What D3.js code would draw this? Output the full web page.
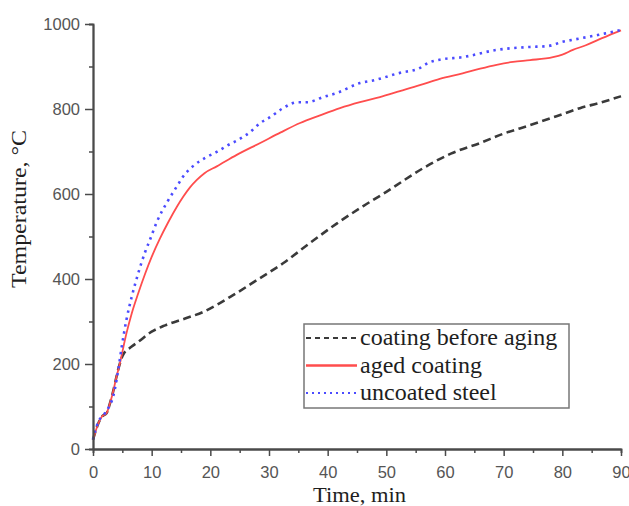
<!DOCTYPE html>
<html>
<head>
<meta charset="utf-8">
<script src="https://cdn.jsdelivr.net/npm/d3@7"></script>
<style>
  body { margin: 0; background: #fff; }
  svg { display: block; }
</style>
</head>
<body>
<svg id="chart"></svg>
<script>
// time (min) / temperature (°C)
const beforeTime = [0, 0.9, 1.5, 2.3, 2.9, 3.5, 4, 4.6, 5.1, 6.6, 7.7, 10, 12.3, 15.7, 18.7, 23.4, 28, 32.4, 37, 41.6, 46, 50, 56.3, 61, 66, 70, 74.5, 79, 83, 86.5, 90];
const beforeTemp = [22, 60, 76, 84, 108, 139, 170, 202, 221, 241, 252, 276, 291, 307, 322, 358, 398, 437, 485, 531, 571, 605, 661, 695, 720, 742, 762, 783, 802, 815, 830];

const agedTime = [0, 0.3, 0.9, 1.5, 2.3, 2.9, 3.5, 4, 4.6, 5.2, 5.7, 6.6, 7.7, 8.9, 10, 11.4, 12.8, 14.3, 15.4, 16.5, 17.7, 19, 21.1, 24.5, 28.5, 32, 35.3, 38.7, 42.1, 45.5, 48.9, 52.3, 55.7, 59.1, 63, 66, 68.8, 71.6, 74.5, 78.4, 80, 81.8, 84, 86, 88, 90];
const agedTemp = [22, 35, 60, 76, 84, 108, 139, 170, 202, 241, 272, 319, 366, 413, 452, 495, 533, 570, 594, 615, 633, 649, 665, 692, 720, 745, 767, 785, 802, 816, 828, 842, 856, 871, 884, 895, 904, 911, 915, 922, 928, 939, 950, 962, 974, 985];

const steelTime = [0, 0.9, 1.8, 2.6, 3.5, 4.3, 4.9, 5.7, 6.6, 7.7, 8.9, 9.7, 10.9, 12.6, 14.3, 15.3, 17, 19.1, 21.1, 23, 24.7, 26.8, 28.5, 30.2, 32.4, 34.8, 36.5, 39.2, 41.6, 45.5, 48, 52.3, 55.5, 57.4, 59.1, 63, 68.8, 74.5, 77.5, 80, 83, 86, 88, 90];
const steelTemp = [22, 64, 80, 96, 127, 186, 241, 304, 358, 413, 464, 492, 535, 580, 618, 640, 665, 685, 699, 715, 727, 746, 767, 781, 802, 816, 816, 828, 838, 861, 868, 885, 895, 910, 916, 922, 939, 946, 948, 958, 966, 974, 980, 986];

const xTicks = [0, 10, 20, 30, 40, 50, 60, 70, 80, 90];
const xMinor = [5, 15, 25, 35, 45, 55, 65, 75, 85];
const yTicks = [0, 200, 400, 600, 800, 1000];
const yMinor = [100, 300, 500, 700, 900];

const seriesNames = ["coating before aging", "aged coating", "uncoated steel"];

const width = 629, height = 506;
const svg = d3.select("#chart").attr("width", width).attr("height", height);

const x = d3.scaleLinear().domain([0, 90]).range([93, 621]);
const y = d3.scaleLinear().domain([0, 1000]).range([449, 24]);

const series = [
  { name: seriesNames[0], t: beforeTime, v: beforeTemp, color: "#3a3a3a", width: 2.6, dash: "8,4.5" },
  { name: seriesNames[1], t: agedTime, v: agedTemp, color: "#ff4d4d", width: 1.8, dash: null },
  { name: seriesNames[2], t: steelTime, v: steelTemp, color: "#4b4bff", width: 2.6, dash: "2.4,4.6" }
];

const line = d3.line()
  .x(d => x(d[0]))
  .y(d => y(d[1]))
  .curve(d3.curveMonotoneX);

// curves
series.forEach(s => {
  svg.append("path")
    .datum(s.t.map((t, i) => [t, s.v[i]]))
    .attr("fill", "none")
    .attr("stroke", s.color)
    .attr("stroke-width", s.width)
    .attr("stroke-dasharray", s.dash)
    .attr("d", line);
});

// axes
const axisColor = "#4a4a4a";
function styleAxis(g) {
  g.select(".domain").attr("stroke", axisColor).attr("stroke-width", 1.8);
  g.selectAll(".tick line").attr("stroke", axisColor).attr("stroke-width", 1.5);
  g.selectAll(".tick text")
    .attr("fill", "#555")
    .style("font-family", "Arial, 'Liberation Sans', sans-serif")
    .style("font-size", "16.5px");
}

svg.append("g")
  .attr("transform", `translate(0,${y(0)})`)
  .call(d3.axisBottom(x).tickValues(xMinor).tickSize(4).tickFormat(""))
  .call(styleAxis);
svg.append("g")
  .attr("transform", `translate(0,${y(0)})`)
  .call(d3.axisBottom(x).tickValues(xTicks).tickSize(7).tickPadding(10).tickSizeOuter(0).tickFormat(d3.format("d")))
  .call(styleAxis);

svg.append("g")
  .attr("transform", `translate(${x(0)},0)`)
  .call(d3.axisLeft(y).tickValues(yMinor).tickSize(4).tickFormat(""))
  .call(styleAxis);
svg.append("g")
  .attr("transform", `translate(${x(0)},0)`)
  .call(d3.axisLeft(y).tickValues(yTicks).tickSize(8).tickPadding(5).tickSizeOuter(0).tickFormat(d3.format("d")))
  .call(styleAxis);

// axis titles
const serif = "'Liberation Serif', 'Times New Roman', serif";
svg.append("text")
  .attr("x", 313).attr("y", 502)
  .attr("textLength", 93).attr("lengthAdjust", "spacingAndGlyphs")
  .style("font-family", serif).style("font-size", "20px").attr("fill", "#1e1e1e")
  .text("Time, min");

svg.append("text")
  .attr("transform", "translate(26,288) rotate(-90)")
  .attr("textLength", 158).attr("lengthAdjust", "spacingAndGlyphs")
  .style("font-family", serif).style("font-size", "20px").attr("fill", "#1e1e1e")
  .text("Temperature, °C");

// legend
const legend = svg.append("g");
legend.append("rect")
  .attr("x", 304).attr("y", 324).attr("width", 265).attr("height", 84)
  .attr("fill", "#fff").attr("stroke", "#777").attr("stroke-width", 1.5);

series.forEach((s, i) => {
  const cy = 338 + i * 27.5;
  legend.append("line")
    .attr("x1", 306).attr("x2", 357).attr("y1", cy).attr("y2", cy)
    .attr("stroke", s.color)
    .attr("stroke-width", i === 1 ? 2.4 : 1.8)
    .attr("stroke-dasharray", i === 0 ? "5,4" : (i === 2 ? "2,4" : null));
  legend.append("text")
    .attr("x", 360).attr("y", cy + 7)
    .style("font-family", serif).style("font-size", "24px").attr("fill", "#1e1e1e")
    .text(s.name);
});
</script>
</body>
</html>
